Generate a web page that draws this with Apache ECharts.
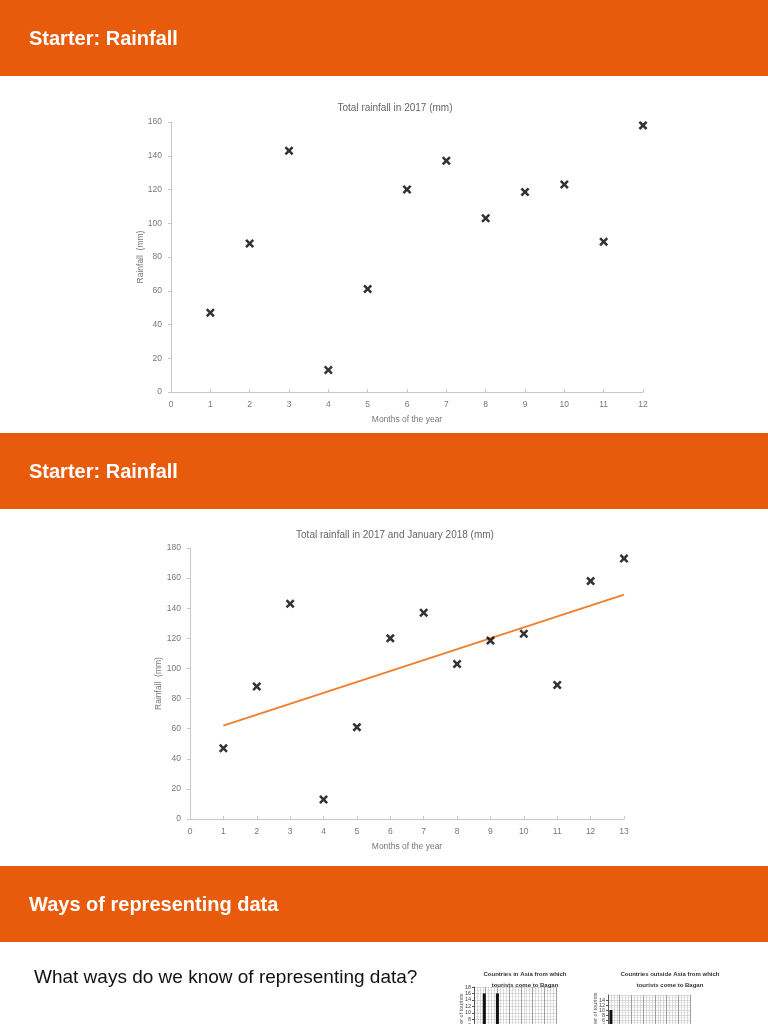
<!DOCTYPE html>
<html>
<head>
<meta charset="utf-8">
<title>Starter: Rainfall</title>
<script src="https://cdn.jsdelivr.net/npm/echarts@6/dist/echarts.min.js"></script>
<style>
  html, body { margin: 0; padding: 0; background: #fff; overflow: hidden; height: 1024px; }
  #slides { width: 768px; height: 1100px; }
</style>
</head>
<body>
<div id="slides"></div>
<script>
// --- data -------------------------------------------------------------------
var months2017 = [1, 2, 3, 4, 5, 6, 7, 8, 9, 10, 11, 12];
var rainfall2017 = [47, 88, 143, 13, 61, 120, 137, 103, 118.5, 123, 89, 158];
var months2018 = [1, 2, 3, 4, 5, 6, 7, 8, 9, 10, 11, 12, 13];
var rainfall2018 = [47, 88, 143, 13, 61, 120, 137, 103, 118.5, 123, 89, 158, 173];
var trendMonths = [1, 13];
var trendValues = [62, 149];

// the two little tourist bar charts at the bottom (only the tops are visible)
var asiaBarX = [3.5, 8];
var asiaBarY = [16, 16];
var outsideBarX = [1];
var outsideBarY = [10];

var headers = ['Starter: Rainfall', 'Starter: Rainfall', 'Ways of representing data'];

var ORANGE = '#e85b0c';
var FONT = '"Liberation Sans", Arial, sans-serif';

function pairs(xs, ys) {
	var out = [];
	for (var i = 0; i < xs.length; i++) {
		out.push([xs[i], ys[i]]);
	}
	return out;
}

// bold "x" marker
var crossPath = 'path://M2,0 L5,3 L8,0 L10,2 L7,5 L10,8 L8,10 L5,7 L2,10 L0,8 L3,5 L0,2 Z';

function rainX(gridIndex, max) {
	return {
		type: 'value', gridIndex: gridIndex, min: 0, max: max, interval: 1,
		name: 'Months of the year', nameLocation: 'middle', nameGap: 23, nameMoveOverlap: false,
		nameTextStyle: { color: '#777', fontSize: 8.5, fontFamily: FONT },
		axisLine: { lineStyle: { color: '#c8c8c8' } },
		axisTick: { show: true, inside: true, length: 3, lineStyle: { color: '#c8c8c8' } },
		axisLabel: { color: '#777', fontSize: 8.5, fontFamily: FONT, margin: 8 },
		splitLine: { show: false }
	};
}

function rainY(gridIndex, max, gap) {
	return {
		type: 'value', gridIndex: gridIndex, min: 0, max: max, interval: 20,
		name: 'Rainfall  (mm)', nameLocation: 'middle', nameGap: gap, nameRotate: 90,
		nameMoveOverlap: false,
		nameTextStyle: { color: '#777', fontSize: 8.5, fontFamily: FONT },
		axisLine: { show: true, lineStyle: { color: '#c8c8c8' } },
		axisTick: { show: true, length: 3, lineStyle: { color: '#c8c8c8' } },
		axisLabel: { color: '#777', fontSize: 8.5, fontFamily: FONT, margin: 9 },
		splitLine: { show: false }
	};
}

function touristX(gridIndex) {
	return {
		type: 'value', gridIndex: gridIndex, min: 0, max: 28, interval: 4,
		axisLine: { show: true, lineStyle: { color: '#555' } },
		axisTick: { show: false }, axisLabel: { show: false },
		splitLine: { show: true, lineStyle: { color: '#888', width: 0.8 } },
		minorTick: { show: false, splitNumber: 4 },
		minorSplitLine: { show: true, lineStyle: { color: '#c4c4c4', width: 0.6 } }
	};
}

function touristY(gridIndex, max) {
	return {
		type: 'value', gridIndex: gridIndex, min: 0, max: max, interval: 2,
		name: 'Number of tourists', nameLocation: 'middle', nameGap: 10, nameRotate: 90,
		nameMoveOverlap: false,
		nameTextStyle: { color: '#555', fontSize: 5.5, fontFamily: FONT },
		axisLine: { show: true, lineStyle: { color: '#555' } },
		axisTick: { show: true, length: 2, lineStyle: { color: '#555' } },
		axisLabel: { color: '#444', fontSize: 5.5, fontFamily: FONT, margin: 3 },
		splitLine: { show: true, lineStyle: { color: '#c4c4c4', width: 0.6 } },
		minorTick: { show: false, splitNumber: 2 },
		minorSplitLine: { show: true, lineStyle: { color: '#dcdcdc', width: 0.5 } }
	};
}

// --- orange header bars + plain text -----------------------------------------
var bars = [[0, 76], [433, 76], [866, 76]];
var graphics = [];
for (var i = 0; i < bars.length; i++) {
	graphics.push({
		type: 'rect', left: 0, top: bars[i][0],
		shape: { width: 768, height: bars[i][1] },
		style: { fill: ORANGE }, silent: true
	});
	graphics.push({
		type: 'text', left: 29, top: bars[i][0] + 29,
		style: { text: headers[i], fill: '#fff', font: 'bold 20px ' + FONT }
	});
}
graphics.push({
	type: 'text', left: 34, top: 968,
	style: { text: 'What ways do we know of representing data?', fill: '#111', font: '19px ' + FONT }
});

var chart = echarts.init(document.getElementById('slides'), null, { renderer: 'canvas' });

var option = {
	animation: false,
	backgroundColor: '#fff',
	title: [
		{ text: 'Total rainfall in 2017 (mm)', left: 390, top: 98, textAlign: 'center',
		  textStyle: { color: '#666', fontSize: 10, fontWeight: 'normal', fontFamily: FONT } },
		{ text: 'Total rainfall in 2017 and January 2018 (mm)', left: 390, top: 525, textAlign: 'center',
		  textStyle: { color: '#666', fontSize: 10, fontWeight: 'normal', fontFamily: FONT } },
		{ text: 'Countries in Asia from which\ntourists come to Bagan', left: 520, top: 964, textAlign: 'center',
		  textStyle: { color: '#333', fontSize: 6, fontWeight: 'bold', fontFamily: FONT, lineHeight: 11 } },
		{ text: 'Countries outside Asia from which\ntourists come to Bagan', left: 665, top: 964, textAlign: 'center',
		  textStyle: { color: '#333', fontSize: 6, fontWeight: 'bold', fontFamily: FONT, lineHeight: 11 } }
	],
	graphic: graphics,
	grid: [
		{ left: 171, top: 122, width: 472, height: 270 },
		{ left: 190, top: 548, width: 434, height: 271 },
		{ left: 474, top: 987, width: 82, height: 58 },
		{ left: 608, top: 995, width: 82, height: 40 }
	],
	xAxis: [rainX(0, 12), rainX(1, 13), touristX(2), touristX(3)],
	yAxis: [rainY(0, 160, 26), rainY(1, 180, 27), touristY(2, 18), touristY(3, 16)],
	series: [
		{
			name: '2017', type: 'scatter', xAxisIndex: 0, yAxisIndex: 0,
			symbol: crossPath, symbolSize: 9,
			itemStyle: { color: '#000' },
			data: pairs(months2017, rainfall2017)
		},
		{
			name: 'Trend', type: 'line', xAxisIndex: 1, yAxisIndex: 1,
			showSymbol: false, symbol: 'none',
			lineStyle: { color: '#ef7f2c', width: 2 },
			data: pairs(trendMonths, trendValues), z: 1
		},
		{
			name: '2017 + Jan 2018', type: 'scatter', xAxisIndex: 1, yAxisIndex: 1,
			symbol: crossPath, symbolSize: 9,
			itemStyle: { color: '#000' },
			data: pairs(months2018, rainfall2018), z: 3
		},
		{
			name: 'Asia', type: 'bar', xAxisIndex: 2, yAxisIndex: 2,
			barWidth: 3, itemStyle: { color: '#111' },
			data: pairs(asiaBarX, asiaBarY)
		},
		{
			name: 'Outside Asia', type: 'bar', xAxisIndex: 3, yAxisIndex: 3,
			barWidth: 3, itemStyle: { color: '#111' },
			data: pairs(outsideBarX, outsideBarY)
		}
	]
};

chart.setOption(option);
</script>
</body>
</html>
